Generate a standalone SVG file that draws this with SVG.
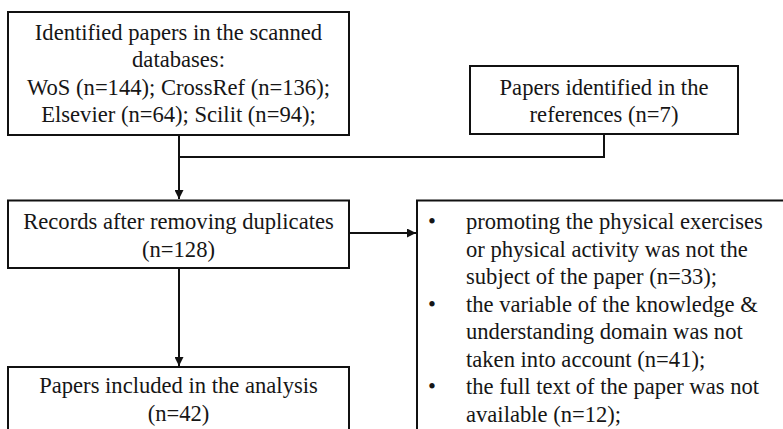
<svg xmlns="http://www.w3.org/2000/svg" width="783" height="429" viewBox="0 0 783 429">
  <style>
    .box { fill: #ffffff; stroke: #111111; stroke-width: 2; }
    .t { font-family: "Liberation Serif", "Times New Roman", serif; font-size: 22.6px; fill: #161616; }
    .c { text-anchor: middle; }
    .edge { fill: none; stroke: #111111; stroke-width: 2; }
  </style>
  <defs>
    <marker id="arrow" viewBox="0 0 10 10" refX="10" refY="5" markerWidth="4.5" markerHeight="4.5" markerUnits="strokeWidth" orient="auto">
      <path d="M0,0 L10,5 L0,10 z" fill="#111111"/>
    </marker>
  </defs>
  <rect width="783" height="429" fill="#ffffff"/>

  <g id="connectors">
    <polyline class="edge" points="179,135 179,157 604,157 604,134"/>
    <line class="edge" x1="179" y1="157" x2="179" y2="199" marker-end="url(#arrow)"/>
    <line class="edge" x1="349" y1="233" x2="416" y2="233" marker-end="url(#arrow)"/>
    <line class="edge" x1="179" y1="268" x2="179" y2="366" marker-end="url(#arrow)"/>
  </g>

  <g id="identified-databases">
    <rect class="box" x="8" y="12" width="341" height="123"/>
    <text class="t c" x="178.5" y="40">Identified papers in the scanned</text>
    <text class="t c" x="178.5" y="67">databases:</text>
    <text class="t c" x="178.5" y="94.5">WoS (n=144); CrossRef (n=136);</text>
    <text class="t c" x="178.5" y="122">Elsevier (n=64); Scilit (n=94);</text>
  </g>

  <g id="identified-references">
    <rect class="box" x="470" y="66" width="268" height="68"/>
    <text class="t c" x="604" y="95">Papers identified in the</text>
    <text class="t c" x="604" y="122">references (n=7)</text>
  </g>

  <g id="records-deduplicated">
    <rect class="box" x="8" y="200.5" width="341" height="67.5"/>
    <text class="t c" x="178.5" y="228.5">Records after removing duplicates</text>
    <text class="t c" x="178.5" y="256.5">(n=128)</text>
  </g>

  <g id="excluded">
    <rect class="box" x="417" y="200.5" width="380" height="240"/>
    <text class="t" x="428" y="229">•</text>
    <text class="t" x="466" y="229">promoting the physical exercises</text>
    <text class="t" x="466" y="256.5">or physical activity was not the</text>
    <text class="t" x="466" y="284">subject of the paper (n=33);</text>
    <text class="t" x="428" y="311.5">•</text>
    <text class="t" x="466" y="311.5">the variable of the knowledge &amp;</text>
    <text class="t" x="466" y="339">understanding domain was not</text>
    <text class="t" x="466" y="366.5">taken into account (n=41);</text>
    <text class="t" x="428" y="394">•</text>
    <text class="t" x="466" y="394">the full text of the paper was not</text>
    <text class="t" x="466" y="421.5">available (n=12);</text>
  </g>

  <g id="included">
    <rect class="box" x="8" y="367" width="341" height="80"/>
    <text class="t c" x="178.5" y="393">Papers included in the analysis</text>
    <text class="t c" x="178.5" y="420.5">(n=42)</text>
  </g>
</svg>
